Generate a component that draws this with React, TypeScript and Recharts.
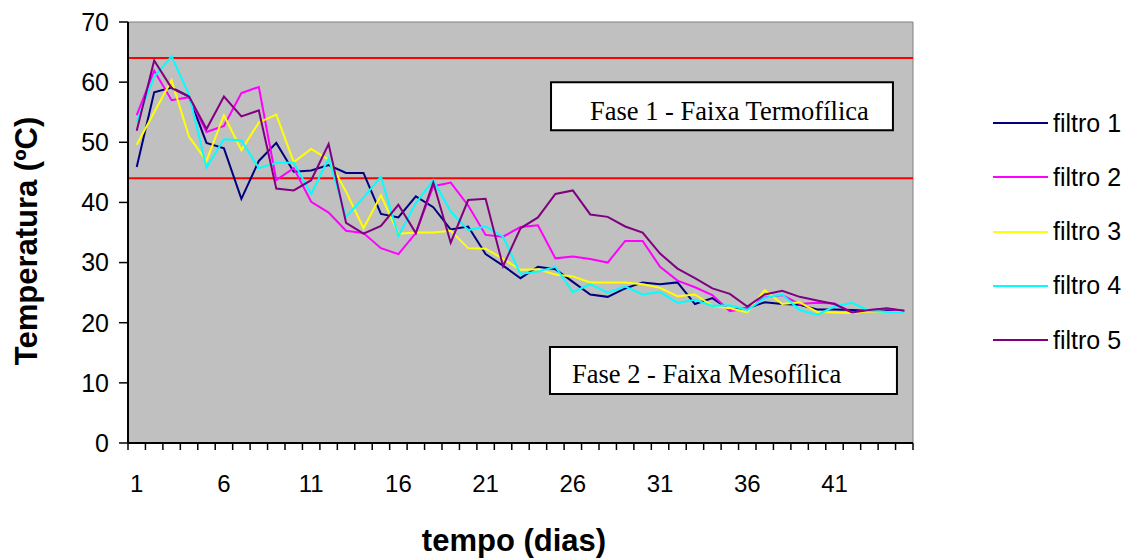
import React from 'react';
import { LineChart, Line, XAxis, YAxis, ReferenceLine, ReferenceArea, Legend } from 'recharts';

const days = [1, 2, 3, 4, 5, 6, 7, 8, 9, 10, 11, 12, 13, 14, 15, 16, 17, 18, 19, 20, 21, 22, 23, 24, 25, 26, 27, 28, 29, 30, 31, 32, 33, 34, 35, 36, 37, 38, 39, 40, 41, 42, 43, 44, 45];

const filtro1 = [45.9, 58.3, 59.1, 57.6, 49.9, 49.0, 40.6, 46.9, 49.9, 45.1, 45.3, 46.2, 44.9, 44.9, 38.1, 37.5, 41.0, 39.2, 35.5, 36.0, 31.4, 29.5, 27.4, 29.3, 28.9, 26.8, 24.7, 24.3, 25.7, 26.7, 26.4, 26.7, 23.1, 24.1, 22.1, 22.4, 23.4, 23.1, 23.0, 22.2, 22.2, 22.1, 22.0, 22.0, 21.9];
const filtro2 = [54.5, 61.9, 57.0, 57.5, 51.7, 52.7, 58.2, 59.2, 43.7, 45.7, 40.1, 38.3, 35.3, 34.9, 32.4, 31.4, 34.9, 42.7, 43.3, 39.5, 34.6, 34.3, 35.9, 36.2, 30.7, 31.0, 30.6, 30.0, 33.6, 33.6, 29.3, 27.0, 25.9, 24.6, 21.9, 22.4, 24.2, 24.6, 23.1, 23.3, 23.2, 21.7, 22.1, 22.3, 22.0];
const filtro3 = [49.6, 55.0, 60.3, 50.9, 46.9, 54.5, 48.7, 53.3, 54.6, 46.7, 48.9, 47.1, 41.8, 35.7, 41.2, 34.8, 35.0, 35.0, 35.3, 32.4, 32.3, 30.6, 28.8, 28.9, 28.0, 27.7, 26.7, 26.7, 26.7, 26.4, 25.8, 24.4, 24.7, 22.8, 22.4, 21.7, 25.4, 23.1, 23.4, 21.8, 21.7, 21.6, 21.9, 21.8, 21.8];
const filtro4 = [53.4, 60.9, 64.3, 57.9, 45.8, 50.5, 50.3, 45.7, 46.6, 46.6, 41.4, 47.3, 37.6, 40.8, 44.3, 34.4, 39.9, 43.7, 38.5, 35.4, 36.0, 34.3, 28.1, 28.5, 29.3, 25.1, 26.4, 25.0, 26.0, 24.7, 25.1, 23.3, 23.8, 22.8, 22.9, 22.1, 24.1, 24.7, 22.1, 21.3, 22.7, 23.3, 22.0, 21.8, 21.7];
const filtro5 = [51.9, 63.6, 59.0, 57.6, 52.2, 57.6, 54.3, 55.3, 42.3, 42.0, 43.7, 49.7, 36.6, 34.8, 36.1, 39.6, 34.9, 43.3, 33.3, 40.4, 40.6, 29.4, 35.7, 37.5, 41.4, 42.0, 38.0, 37.6, 36.0, 35.0, 31.5, 29.0, 27.4, 25.7, 24.8, 22.7, 24.7, 25.3, 24.3, 23.7, 23.1, 21.7, 22.1, 22.4, 22.0];

const seriesKeys = ['f1', 'f2', 'f3', 'f4', 'f5'];
const seriesNames = ['filtro 1', 'filtro 2', 'filtro 3', 'filtro 4', 'filtro 5'];
const seriesColors = ['#000080', '#FF00FF', '#FFFF00', '#00FFFF', '#800080'];
const seriesValues = [filtro1, filtro2, filtro3, filtro4, filtro5];

const yTicks = [0, 10, 20, 30, 40, 50, 60, 70];
const xTickLabels = ['1', '6', '11', '16', '21', '26', '31', '36', '41'];
const phaseLimits = [64, 44];
const phase1Label = 'Fase 1 - Faixa Termofílica';
const phase2Label = 'Fase 2 - Faixa Mesofílica';

const data = days.map((d, i) => {
  const row: Record<string, number> = { day: d };
  seriesKeys.forEach((k, j) => {
    row[k] = seriesValues[j][i];
  });
  return row;
});

// tick marks at category boundaries + label positions at category centres
const boundaryTicks = [0.5, ...days.map((d) => d + 0.5)];
const labelTicks = xTickLabels.map((l) => Number(l));
const xTicks = [...boundaryTicks, ...labelTicks].sort((a, b) => a - b);

const SANS = '"Liberation Sans", Arial, sans-serif';
const SERIF = '"Liberation Serif", "Times New Roman", serif';

const XTick = (props: any) => {
  const { x, y, payload } = props;
  const v = payload.value;
  if (Number.isInteger(v)) {
    return (
      <text x={x} y={y + 49} textAnchor="middle" fontSize={24} fontFamily={SANS} fill="#000">
        {String(v)}
      </text>
    );
  }
  return <line x1={x} x2={x} y1={y} y2={y + 7} stroke="#000" strokeWidth={1.5} />;
};

const BoxLabel = (text: string, padLeft: number, baseline: number) => (props: any) => {
  const vb = props.viewBox || {};
  return (
    <text x={vb.x + padLeft} y={vb.y + baseline} fontSize={26.5} fontFamily={SERIF} fill="#000">
      {text}
    </text>
  );
};

const LegendContent = (props: any) => {
  const payload = props.payload || [];
  return (
    <div style={{ fontFamily: SANS, fontSize: 25, color: '#000' }}>
      {payload.map((entry: any) => (
        <div key={entry.value} style={{ height: 54.25, display: 'flex', alignItems: 'center', whiteSpace: 'nowrap' }}>
          <svg width={55} height={4} style={{ marginRight: 5 }}>
            <line x1={0} x2={55} y1={2} y2={2} stroke={entry.color} strokeWidth={2} />
          </svg>
          <span>{entry.value}</span>
        </div>
      ))}
    </div>
  );
};

export default function App() {
  return (
    <div style={{ position: 'absolute', left: 0, top: 0, width: 1139, height: 558, background: '#fff' }}>
      <LineChart
        width={1139}
        height={558}
        data={data}
        margin={{ top: 22, right: 226, bottom: 75, left: 68 }}
      >
        <ReferenceArea
          x1={0.5}
          x2={45.5}
          y1={0}
          y2={70}
          fill="#C0C0C0"
          fillOpacity={1}
          stroke="#808080"
          strokeWidth={1}
          ifOverflow="visible"
        />
        <XAxis
          dataKey="day"
          type="number"
          domain={[0.5, 45.5]}
          ticks={xTicks}
          interval={0}
          height={40}
          tickLine={false}
          tickSize={0}
          tickMargin={0}
          axisLine={{ stroke: '#000', strokeWidth: 2 }}
          tick={<XTick />}
          allowDataOverflow
          label={{
            content: () => (
              <text x={514} y={551} textAnchor="middle" fontSize={31} fontWeight="bold" fontFamily={SANS} fill="#000">
                tempo (dias)
              </text>
            ),
          }}
        />
        <YAxis
          type="number"
          domain={[0, 70]}
          ticks={yTicks}
          interval={0}
          width={60}
          tickSize={9}
          tickMargin={10}
          tickLine={{ stroke: '#000', strokeWidth: 1.5 }}
          axisLine={{ stroke: '#000', strokeWidth: 2 }}
          tick={{ fill: '#000', fontSize: 25, fontFamily: SANS }}
          label={{
            content: () => (
              <text
                x={37}
                y={241}
                transform="rotate(-90 37 241)"
                textAnchor="middle"
                fontSize={31}
                fontWeight="bold"
                fontFamily={SANS}
                fill="#000"
              >
                Temperatura (ºC)
              </text>
            ),
          }}
        />
        {phaseLimits.map((v) => (
          <ReferenceLine key={v} y={v} stroke="#FF0000" strokeWidth={2} ifOverflow="visible" />
        ))}
        <ReferenceArea
          x1={24.75}
          x2={44.35}
          y1={52.0}
          y2={60.0}
          fill="#FFFFFF"
          fillOpacity={1}
          stroke="#000"
          strokeWidth={2}
          label={{ content: BoxLabel(phase1Label, 39, 38) }}
        />
        <ReferenceArea
          x1={24.69}
          x2={44.58}
          y1={8.15}
          y2={15.96}
          fill="#FFFFFF"
          fillOpacity={1}
          stroke="#000"
          strokeWidth={2}
          label={{ content: BoxLabel(phase2Label, 22, 36) }}
        />
        {seriesKeys.map((k, j) => (
          <Line
            key={k}
            type="linear"
            dataKey={k}
            name={seriesNames[j]}
            stroke={seriesColors[j]}
            strokeWidth={2}
            dot={false}
            activeDot={false}
            isAnimationActive={false}
          />
        ))}
        <Legend
          layout="vertical"
          align="center"
          verticalAlign="middle"
          content={<LegendContent />}
          wrapperStyle={{ left: 993, top: 96, width: 146, height: 280 }}
        />
      </LineChart>
    </div>
  );
}
